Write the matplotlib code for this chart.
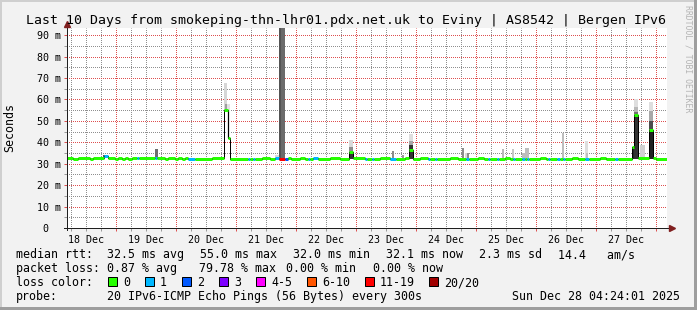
import matplotlib
matplotlib.use('Agg')
import matplotlib.pyplot as plt
import matplotlib.dates as mdates
import matplotlib.ticker as mticker
import numpy as np
import pandas as pd
from matplotlib.patches import Rectangle
from matplotlib.transforms import ScaledTranslation

plt.rcParams['font.family'] = ['DejaVu Sans Mono']

# graph window: 10 days ending at the footer timestamp
t_end = pd.Timestamp('2025-12-28 04:24:01')
t_start = t_end - pd.Timedelta(days=10)
day0 = pd.Timestamp('2025-12-18 00:00')

# median rtt as step changes: hours since 18 Dec 00:00, ms, pings lost (of 20)
med_hours = [4.4, 6.8, 8.8, 13.6, 14.8, 19.2, 20.8, 23.6, 24.8, 26.4,
             27.6, 28.8, 30.4, 32.4, 33.2, 39.6, 40.4, 43.6, 44.8, 47.6,
             48.8, 50.4, 51.6, 52.8, 55.6, 62.4, 67.2, 68.8, 69.6, 76.8,
             77.6, 78.8, 79.6, 82.4, 85.6, 87.6, 89.2, 91.6, 92.8, 94.0,
             97.6, 99.6, 100.8, 101.6, 102.8, 104.8, 109.6, 113.6, 117.2, 118.8,
             123.6, 124.4, 126.4, 127.2, 129.6, 133.6, 136.0, 139.6, 141.2, 142.8,
             145.6, 148.8, 149.6, 151.6, 152.4, 157.6, 160.8, 164.0, 165.2, 168.8,
             171.2, 172.8, 173.6, 176.4, 177.2, 179.6, 181.6, 182.8, 183.6, 186.4,
             187.6, 188.4, 189.2, 193.6, 196.0, 196.8, 197.6, 200.4, 201.6, 202.8,
             203.6, 206.4, 208.8, 211.6, 213.2, 217.6, 220.0, 223.6, 224.8, 230.4,
             231.2, 232.8, 237.2, 238.8, 240.0]
med_ms = [32.5, 32.0, 32.5, 32.0, 32.5, 33.8, 32.5, 32.0, 32.5, 32.0,
          32.5, 32.0, 32.5, 32.5, 32.5, 32.5, 32.5, 32.0, 32.5, 32.0,
          32.5, 32.0, 32.5, 32.0, 32.0, 32.5, 55.0, 42.0, 32.0, 32.0,
          32.0, 32.0, 32.0, 32.5, 32.0, 32.5, 32.0, 32.0, 32.8, 32.0,
          32.5, 32.0, 32.0, 32.0, 32.5, 32.0, 32.5, 32.0, 35.5, 32.5,
          32.0, 32.0, 32.0, 32.0, 32.5, 32.0, 32.0, 32.5, 36.5, 32.0,
          32.5, 32.0, 32.0, 32.0, 32.0, 32.5, 32.0, 32.0, 32.0, 32.5,
          32.0, 32.0, 32.0, 32.0, 32.0, 32.5, 32.0, 32.0, 32.0, 32.0,
          32.0, 32.0, 32.0, 32.5, 32.0, 32.0, 32.0, 32.0, 32.0, 32.0,
          32.0, 32.5, 32.0, 32.0, 32.0, 32.5, 32.0, 32.0, 32.0, 38.0,
          52.5, 32.5, 45.5, 32.5, 32.0]
med_lost = [0, 0, 0, 0, 0, 1, 0, 0, 0, 0,
            0, 0, 0, 1, 0, 1, 0, 0, 0, 0,
            0, 0, 0, 1, 0, 0, 0, 0, 0, 1,
            0, 1, 0, 0, 0, 1, 14, 2, 0, 0,
            0, 0, 1, 0, 1, 0, 0, 0, 0, 0,
            1, 0, 1, 0, 0, 1, 0, 0, 0, 0,
            0, 1, 0, 1, 0, 0, 0, 1, 0, 0,
            0, 1, 0, 1, 0, 0, 0, 1, 0, 1,
            0, 1, 0, 0, 0, 1, 0, 1, 0, 1,
            0, 0, 0, 1, 0, 0, 0, 1, 0, 0,
            0, 0, 0, 0, 0]

# smoke (spread of the pings): start hour, duration h, low ms, high ms, grey level
smoke_hours = [18.8, 39.6, 67.2, 67.6, 68.4, 87.6, 89.2, 90.0,
               117.2, 117.2, 117.2, 134.4, 138.4, 141.2, 141.2, 141.2,
               162.4, 163.6, 164.4, 178.4, 182.4, 186.4, 187.6, 202.4,
               211.6, 212.0, 230.4, 231.2, 231.2, 231.2, 231.2, 233.6,
               237.2, 237.2, 237.2, 237.2]
smoke_dur = [0.8, 1.2, 1.2, 0.8, 1.2, 1.6, 0.8, 1.6,
             1.6, 1.6, 1.6, 0.8, 0.8, 1.6, 1.6, 1.6,
             0.8, 0.8, 0.8, 0.8, 0.8, 1.2, 1.6, 0.8,
             1.2, 0.8, 0.8, 1.6, 1.6, 1.6, 1.6, 2.0,
             1.6, 1.6, 1.6, 1.6]
smoke_lo = [32.5, 32.0, 55.0, 55.0, 42.0, 32.0, 32.0, 32.0,
            32.0, 35.0, 38.0, 32.0, 32.0, 32.0, 38.5, 40.5,
            32.0, 32.0, 32.0, 32.0, 32.0, 32.0, 32.0, 32.0,
            32.0, 32.0, 32.0, 32.0, 52.5, 54.0, 56.5, 32.0,
            32.0, 45.5, 50.0, 54.5]
smoke_hi = [34.0, 37.0, 67.5, 58.0, 58.0, 34.0, 100.0, 100.0,
            35.0, 38.0, 41.0, 36.0, 34.0, 38.5, 40.5, 44.0,
            37.5, 35.0, 35.0, 37.0, 37.0, 35.0, 37.5, 44.3,
            40.4, 35.0, 38.0, 52.5, 54.0, 56.5, 60.0, 38.8,
            45.5, 50.0, 54.5, 59.0]
smoke_grey = [0.35, 0.43, 0.84, 0.62, 0.89, 0.85, 0.33, 0.42,
              0.20, 0.55, 0.85, 0.55, 0.60, 0.20, 0.65, 0.87,
              0.55, 0.85, 0.55, 0.72, 0.78, 0.74, 0.74, 0.74,
              0.87, 0.75, 0.15, 0.20, 0.45, 0.72, 0.87, 0.82,
              0.13, 0.30, 0.66, 0.87]

loss_labels = ['0', '1', '2', '3', '4-5', '6-10', '11-19', '20/20']
loss_colors = ['#26ff00', '#00b8ff', '#0059ff', '#7e00ff', '#ff00ff', '#ff5500', '#ff0000', '#a10000']
loss_upper = [0, 1, 2, 3, 5, 10, 19, 20]

title = 'Last 10 Days from smokeping-thn-lhr01.pdx.net.uk to Eviny | AS8542 | Bergen IPv6'
rtt_items = ['32.5 ms avg', '55.0 ms max', '32.0 ms min', '32.1 ms now', '2.3 ms sd', '14.4   am/s']
loss_items = ['0.87 % avg', '79.78 % max', '0.00 % min', '0.00 % now']
probe_text = '20 IPv6-ICMP Echo Pings (56 Bytes) every 300s'
stamp = 'Sun Dec 28 04:24:01 2025'

W, H = 697, 310
fig = plt.figure(figsize=(W / 100, H / 100), dpi=100)
fig.patch.set_facecolor('#f2f2f2')
ax = fig.add_axes([67 / W, 82 / H, 600 / W, 200 / H])
ax.set_facecolor('white')

def hours_to_num(h):
    return mdates.date2num(day0 + pd.to_timedelta(np.asarray(h), unit='h'))

x_end = mdates.date2num(t_end)

# smoke
sx = hours_to_num(smoke_hours)
for x0, d, lo, hi, g in zip(sx, smoke_dur, smoke_lo, smoke_hi, smoke_grey):
    ax.bar(x0, hi - lo, width=d / 24, bottom=lo, align='edge',
           color=(g, g, g), linewidth=0, zorder=2)

# median: thin black step, loss coloured thick pieces on top
mx = hours_to_num(med_hours)
mx_end = np.append(mx[1:], x_end)
ax.step(np.append(mx, x_end), np.append(med_ms, med_ms[-1]), where='post',
        color='black', lw=0.72, zorder=3)

def loss_colour(n):
    for u, c in zip(loss_upper, loss_colors):
        if n <= u:
            return c
    return loss_colors[-1]

ax.hlines(med_ms, mx, mx_end, colors=[loss_colour(n) for n in med_lost],
          lw=2.16, zorder=4)

ax.set_xlim(mdates.date2num(t_start), x_end)
ax.set_ylim(0, 93.3)

# grid and ticks, rrdtool style (1px dots)
ax.set_axisbelow(True)
ax.xaxis.set_major_locator(mdates.DayLocator())
ax.xaxis.set_minor_locator(mdates.HourLocator(byhour=[6, 12, 18]))
ax.xaxis.set_major_formatter(mticker.NullFormatter())

def noon_label(v, pos):
    d = mdates.num2date(v)
    return d.strftime('%d %b') if d.hour == 12 else ''

ax.xaxis.set_minor_formatter(mticker.FuncFormatter(noon_label))
ax.yaxis.set_major_locator(mticker.MultipleLocator(10))
ax.yaxis.set_minor_locator(mticker.MultipleLocator(5))
ax.yaxis.set_major_formatter(mticker.FuncFormatter(lambda v, p: '' if v == 0 else f'{v:.0f} m'))
ax.grid(True, which='major', color=(0.87, 0.31, 0.31, 0.45), linestyle=(0.5, (1, 1)),
        linewidth=0.72)
ax.grid(True, which='minor', color=(0.56, 0.56, 0.56, 0.45), linestyle=(0.5, (1, 1)),
        linewidth=0.72)
ax.tick_params(which='major', direction='out', length=2, width=0.72,
               color='#de5050', labelsize=7.2, pad=2.5)
ax.tick_params(which='minor', direction='out', length=2, width=0.72,
               color='#9a9a9a', labelsize=7.2)
ax.tick_params(axis='x', which='minor', pad=3.3)
ax.text(0, 0, '0', transform=ax.get_yaxis_transform()
        + ScaledTranslation(-0.19, 0, fig.dpi_scale_trans),
        ha='right', va='center_baseline', fontsize=7.2)

for s in ax.spines.values():
    s.set_visible(False)

# axes with arrows
ax.plot([-0.005, 1.006], [0, 0], transform=ax.transAxes, color='#1f1f1f',
        lw=0.72, clip_on=False, zorder=5)
ax.plot([0, 0], [-0.012, 1.018], transform=ax.transAxes, color='#1f1f1f',
        lw=0.72, clip_on=False, zorder=5)
ax.plot([1.009], [0], marker='>', ms=4, color='#801f1f', transform=ax.transAxes,
        clip_on=False, zorder=6)
ax.plot([0], [1.022], marker='^', ms=4, color='#801f1f', transform=ax.transAxes,
        clip_on=False, zorder=6)

# texts
fs = 8.4
fig.text(346.5 / W, 1 - 24 / H, title, ha='center', va='baseline', fontsize=9.55)
fig.text(10 / W, 1 - 127 / H, 'Seconds', rotation=90, ha='center', va='center', fontsize=fs)
fig.text(688 / W, 1 - 5 / H, 'RRDTOOL / TOBI OETIKER', rotation=270, ha='center',
         va='top', fontsize=5.9, color='#b4b4b4')

def row(y, label, items, xs):
    fig.text(16 / W, 1 - y / H, label, va='baseline', fontsize=fs)
    for t, x in zip(items, xs):
        fig.text(x / W, 1 - y / H, t, va='baseline', fontsize=fs)

row(258, 'median rtt:', rtt_items, [107, 200, 293, 386, 479, 558])
row(272, 'packet loss:', loss_items, [107, 199, 286, 373])
row(286, 'loss color:', [], [])
box_x = [108, 145, 182, 219, 256, 307, 365, 429]
for lab, c, bx in zip(loss_labels, loss_colors, box_x):
    fig.add_artist(Rectangle((bx / W, 1 - 286 / H), 9 / W, 9 / H, transform=fig.transFigure,
                             facecolor=c, edgecolor='black', linewidth=0.72))
    fig.text((bx + 15) / W, 1 - 286 / H, lab, va='baseline', fontsize=fs)
row(300, 'probe:', [probe_text], [107])
fig.text(680 / W, 1 - 300 / H, stamp, ha='right', va='baseline', fontsize=fs)

# 3d frame
fig.add_artist(Rectangle((0, 1 - 2 / H), 1, 2 / H, transform=fig.transFigure, color='#cfcfcf', lw=0))
fig.add_artist(Rectangle((0, 0), 2 / W, 1, transform=fig.transFigure, color='#cfcfcf', lw=0))
fig.add_artist(Rectangle((0, 0), 1, 3 / H, transform=fig.transFigure, color='#9e9e9e', lw=0))
fig.add_artist(Rectangle((1 - 3 / W, 0), 3 / W, 1, transform=fig.transFigure, color='#9e9e9e', lw=0))

fig.savefig('out.png', dpi=100, facecolor=fig.get_facecolor())
